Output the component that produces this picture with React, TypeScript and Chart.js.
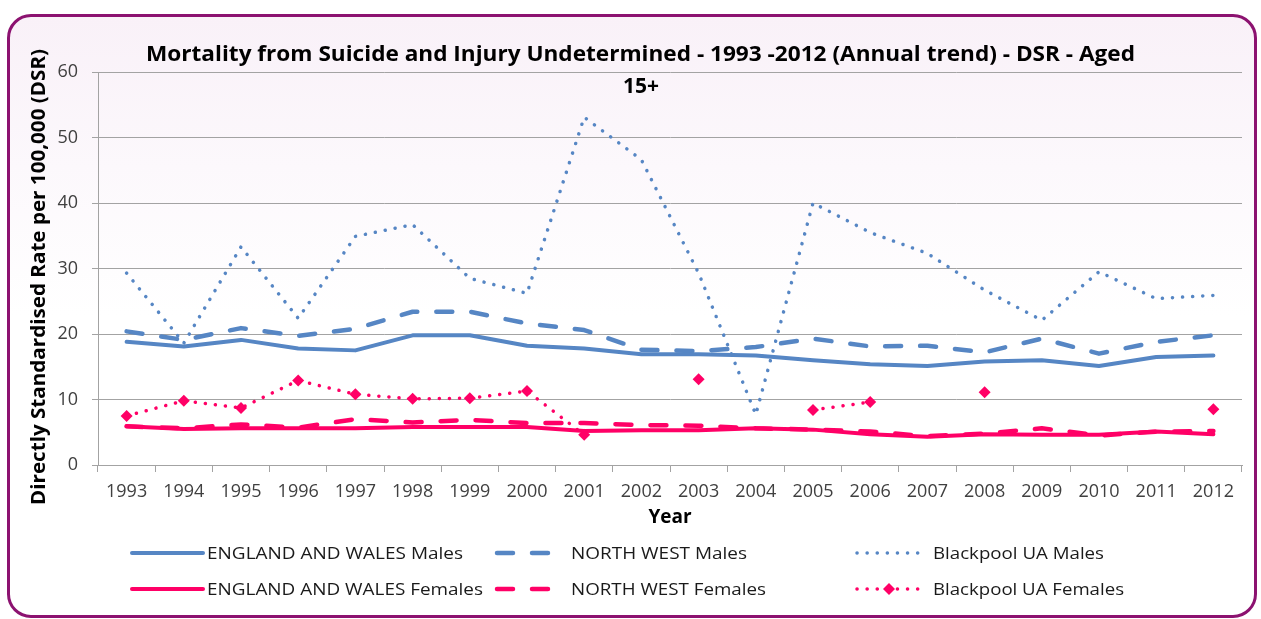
import React, { useEffect, useRef } from 'react';
import { Chart, registerables } from 'chart.js';

Chart.register(...registerables);

const years = ['1993', '1994', '1995', '1996', '1997', '1998', '1999', '2000', '2001', '2002', '2003', '2004', '2005', '2006', '2007', '2008', '2009', '2010', '2011', '2012'];

const ewMales = [18.8, 18.1, 19.1, 17.8, 17.5, 19.8, 19.8, 18.2, 17.8, 16.9, 16.9, 16.7, 16.0, 15.4, 15.1, 15.8, 16.0, 15.1, 16.5, 16.7];
const nwMales = [20.4, 19.1, 20.9, 19.7, 20.8, 23.4, 23.4, 21.6, 20.6, 17.6, 17.4, 18.0, 19.3, 18.1, 18.2, 17.2, 19.3, 17.0, 18.8, 19.8];
const bpMales = [29.3, 18.6, 33.3, 22.4, 34.9, 36.7, 28.5, 26.2, 53.1, 46.6, 29.3, 7.7, 40.0, 35.5, 32.3, 26.7, 22.1, 29.5, 25.4, 25.9];
const ewFemales = [5.9, 5.5, 5.6, 5.6, 5.6, 5.8, 5.8, 5.8, 5.2, 5.3, 5.3, 5.6, 5.4, 4.7, 4.3, 4.7, 4.6, 4.6, 5.1, 4.7];
const nwFemales = [5.9, 5.6, 6.2, 5.7, 7.0, 6.5, 6.9, 6.4, 6.4, 6.1, 6.0, 5.6, 5.4, 5.1, 4.4, 4.8, 5.6, 4.5, 5.1, 5.2];
const bpFemales: (number | null)[] = [7.5, 9.8, 8.7, 12.9, 10.8, 10.1, 10.2, 11.3, 4.6, null, 13.1, null, 8.4, 9.6, null, 11.1, null, null, null, 8.5];

const seriesNames = [
  'ENGLAND AND WALES Males',
  'NORTH WEST Males',
  'Blackpool UA Males',
  'ENGLAND AND WALES Females',
  'NORTH WEST Females',
  'Blackpool UA Females',
];

const yTicks = [0, 10, 20, 30, 40, 50, 60];

const titleLines = ['Mortality from Suicide and Injury Undetermined - 1993 -2012 (Annual trend) - DSR - Aged', '15+'];
const yTitle = 'Directly Standardised Rate per 100,000 (DSR)';
const xTitle = 'Year';

const BLUE = '#5686C4';
const PINK = '#FF0066';
const GRID = '#A3A3A3';
const DASH = [16, 19];
const DOT = [0.1, 10];

function fitText(ctx: CanvasRenderingContext2D, text: string, x: number, y: number, width: number, align: 'left' | 'center') {
  const w = ctx.measureText(text).width;
  const s = width / w;
  ctx.save();
  ctx.textAlign = 'left';
  const x0 = align === 'center' ? x - width / 2 : x;
  ctx.translate(x0, y);
  ctx.scale(s, 1);
  ctx.fillText(text, 0, 0);
  ctx.restore();
}

const decorPlugin = {
  id: 'decor',
  afterDraw(chart: any) {
    const ctx: CanvasRenderingContext2D = chart.ctx;
    ctx.save();
    // Title
    ctx.fillStyle = '#000';
    ctx.textBaseline = 'alphabetic';
    ctx.font = 'bold 21px "Open Sans"';
    fitText(ctx, titleLines[0], 640.5, 61, 989, 'center');
    ctx.textAlign = 'center';
    ctx.fillText(titleLines[1], 641, 93);

    // Y axis title (rotated)
    ctx.save();
    ctx.translate(40, 277);
    ctx.rotate(-Math.PI / 2);
    ctx.font = 'bold 19px "Open Sans"';
    ctx.textBaseline = 'middle';
    fitText(ctx, yTitle, 0, 0, 456, 'center');
    ctx.restore();

    // Legend
    const cols = [
      { s0: 132, s1: 203, tx: 207 },
      { s0: 497, s1: 550, tx: 571 },
      { s0: 857, s1: 921, tx: 933 },
    ];
    const rows = [553, 589];
    const widths = [256, 176, 171, 276, 195, 191];
    chart.data.datasets.forEach((ds: any, i: number) => {
      const col = cols[i % 3];
      const y = rows[Math.floor(i / 3)];
      ctx.save();
      ctx.strokeStyle = ds.borderColor;
      ctx.lineWidth = ds.borderWidth;
      ctx.lineCap = 'round';
      ctx.setLineDash(ds.borderDash || []);
      ctx.beginPath();
      ctx.moveTo(col.s0, y);
      ctx.lineTo(col.s1, y);
      ctx.stroke();
      if (ds.pointRadius > 0) {
        const cx = (col.s0 + col.s1) / 2;
        const r = ds.pointRadius;
        ctx.setLineDash([]);
        ctx.fillStyle = ds.pointBackgroundColor;
        ctx.beginPath();
        ctx.moveTo(cx - r, y);
        ctx.lineTo(cx, y - r);
        ctx.lineTo(cx + r, y);
        ctx.lineTo(cx, y + r);
        ctx.closePath();
        ctx.fill();
      }
      ctx.restore();
      ctx.fillStyle = '#1a1a1a';
      ctx.font = '17px "Open Sans"';
      ctx.textBaseline = 'middle';
      fitText(ctx, ds.label, col.tx, y + 1, widths[i], 'left');
    });
    ctx.restore();
  },
};

export default function App() {
  const ref = useRef<HTMLCanvasElement>(null);
  useEffect(() => {
    const mk = (i: number, data: (number | null)[], color: string, dash: number[], width: number, extra: any = {}) => ({
      label: seriesNames[i],
      data,
      borderColor: color,
      backgroundColor: color,
      borderWidth: width,
      borderDash: dash,
      borderCapStyle: 'round',
      borderJoinStyle: 'round',
      pointRadius: 0,
      pointHoverRadius: 0,
      tension: 0,
      fill: false,
      spanGaps: false,
      ...extra,
    });
    const chart = new Chart(ref.current!, {
      type: 'line',
      data: {
        labels: years,
        datasets: [
          mk(0, ewMales, BLUE, [], 4),
          mk(1, nwMales, BLUE, DASH, 4.5),
          mk(2, bpMales, BLUE, DOT, 3.5),
          mk(3, ewFemales, PINK, [], 4),
          mk(4, nwFemales, PINK, DASH, 4.5),
          mk(5, bpFemales, PINK, DOT, 3.5, {
            pointRadius: 6,
            pointStyle: 'rectRot',
            pointBackgroundColor: PINK,
            pointBorderColor: PINK,
            pointBorderWidth: 0,
          }),
        ] as any,
      },
      options: {
        responsive: false,
        animation: false,
        events: [],
        layout: { padding: { left: 25, top: 72, right: 19, bottom: 86 } },
        plugins: {
          legend: { display: false },
          title: { display: false },
          tooltip: { enabled: false },
        },
        scales: {
          x: {
            type: 'category',
            offset: true,
            grid: { offset: true, drawOnChartArea: false, drawTicks: true, tickLength: 7, color: GRID },
            border: { color: GRID, width: 1 },
            ticks: { color: '#404040', font: { family: 'Open Sans', size: 18 }, padding: 9, maxRotation: 0, autoSkip: false },
            title: { display: true, text: xTitle, color: '#000', font: { family: 'Open Sans', size: 19, weight: 'bold' }, padding: { top: 0, bottom: 4 } },
            afterFit: (s: any) => { s.height = 68; },
          },
          y: {
            min: yTicks[0],
            max: yTicks[yTicks.length - 1],
            afterBuildTicks: (s: any) => { s.ticks = yTicks.map((v) => ({ value: v })); },
            grid: { color: GRID, tickLength: 6, lineWidth: 1 },
            border: { color: GRID, width: 1 },
            ticks: { color: '#404040', font: { family: 'Open Sans', size: 18 }, padding: 14 },
            title: { display: false },
            afterFit: (s: any) => { s.width = 73; },
          },
        },
      } as any,
      plugins: [decorPlugin],
    });
    return () => chart.destroy();
  }, []);
  return (
    <div style={{ position: 'fixed', left: 0, top: 0, width: 1261, height: 619, overflow: 'hidden', background: '#fff' }}>
      <div
        style={{
          position: 'absolute',
          left: 7,
          top: 14,
          width: 1250,
          height: 604,
          border: '3px solid #8C1270',
          borderRadius: 24,
          boxSizing: 'border-box',
          background: 'linear-gradient(to bottom, #F9F1F8 0%, #FCF8FC 25%, #FFFFFF 50%, #FFFFFF 100%)',
        }}
      />
      <canvas ref={ref} width={1261} height={619} style={{ position: 'absolute', left: 0, top: 0 }} />
    </div>
  );
}
